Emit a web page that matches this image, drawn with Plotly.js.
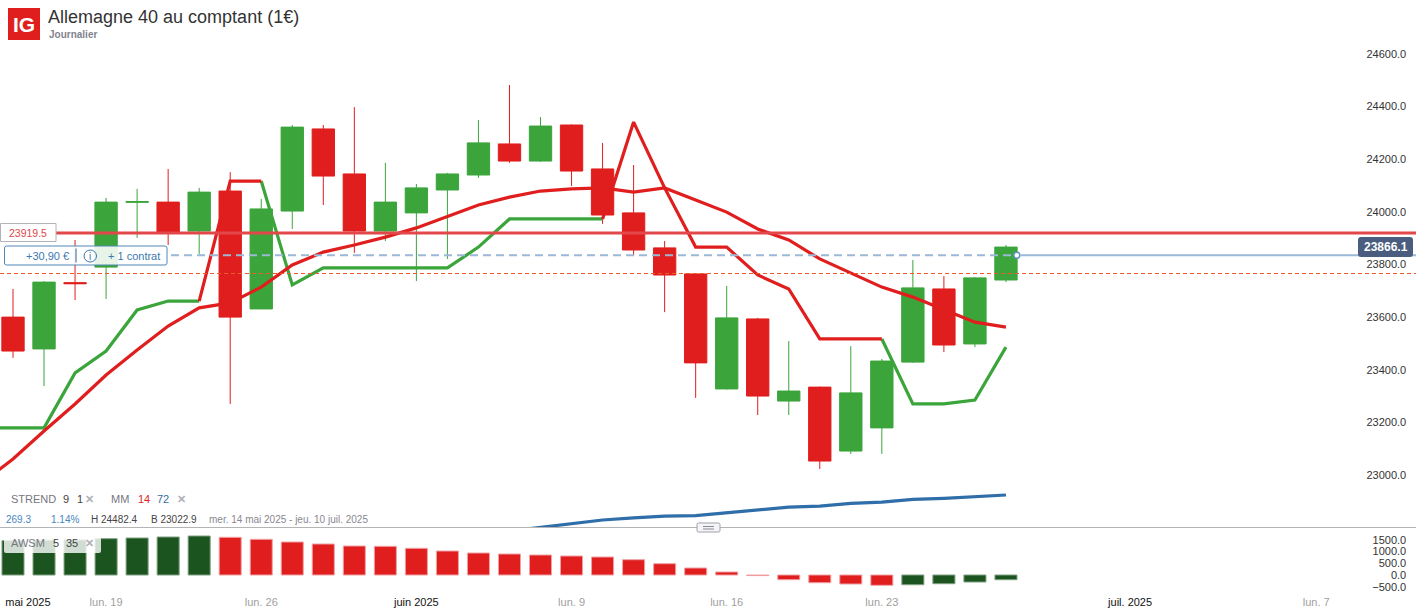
<!DOCTYPE html>
<html>
<head>
<meta charset="utf-8">
<script src="https://cdn.plot.ly/plotly-3.0.1.min.js"></script>
<style>
html, body { margin: 0; padding: 0; background: #fff; }
#chart { width: 1416px; height: 611px; }
</style>
</head>
<body>
<div id="chart"></div>
<script>
const W = 1416;
const H = 611;

// session index, 0 = mer. 14 mai 2025
const sessions = [0,1,2,3,4,5,6,7,8,9,10,11,12,13,14,15,16,17,18,19,20,21,22,23,24,25,26,27,28,29,30,31,32];
const open = [23600,23479,23731,23790,24036,24037,23927,24079,23631,24003,24315,24144,23927,23996,24083,24140,24258,24193,24330,24163,23996,23863,23764,23327,23593,23281,23334,23091,23179,23429,23707,23498,23741];
const high = [23707,23737,23893,24053,24087,24163,24091,24151,24049,24330,24330,24398,24186,24106,24148,24349,24482,24360,24332,24262,24178,23889,23766,23718,23597,23509,23336,23490,23441,23817,23756,23752,23874];
const low = [23445,23338,23665,23669,23901,23874,23840,23270,23631,23935,24026,23844,23889,23737,23821,24129,24186,24190,24098,23954,23832,23619,23293,23325,23228,23228,23023,23080,23080,23426,23467,23486,23733];
const close = [23471,23733,23727,24037,24039,23923,24075,23600,24011,24322,24136,23927,24037,24091,24144,24262,24193,24326,24155,23988,23855,23760,23426,23597,23300,23319,23053,23312,23433,23711,23494,23749,23866.1];

// indicators also carry the session before the first candle
const lineX = [-1,0,1,2,3,4,5,6,7,8,9,10,11,12,13,14,15,16,17,18,19,20,21,22,23,24,25,26,27,28,29,30,31,32];
const mm14 = [22970,23061,23167,23270,23380,23475,23566,23635,23654,23714,23798,23847,23874,23904,23939,23984,24026,24056,24079,24087,24091,24075,24091,24045,23999,23935,23893,23821,23768,23714,23676,23627,23581,23562];
const mm72 = [null,null,null,null,null,null,null,null,null,null,null,null,null,null,null,null,null,22787,22800,22814,22829,22837,22844,22846,22856,22867,22878,22882,22892,22897,22907,22911,22916,22924];
const strendUp = [23179,23179,23179,23388,23471,23627,23661,23661,null,24117,23722,23787,23787,23787,23787,23787,23866,23973,23973,23973,23973,null,null,null,null,null,null,null,null,23517,23270,23270,23285,23486];
const strendDown = [null,null,null,null,null,null,null,23661,24117,24117,null,null,null,null,null,null,null,null,null,null,23973,24341,24091,23866,23866,23760,23707,23517,23517,23517,null,null,null,null];

const awsm = [1460,1480,1490,1545,1574,1617,1659,1604,1519,1404,1319,1234,1221,1136,1021,936,894,851,808,766,651,481,298,128,-25,-200,-328,-383,-438,-413,-370,-298,-200];
const awsmRising = [1,1,1,1,1,1,1,0,0,0,0,0,0,0,0,0,0,0,0,0,0,0,0,0,0,0,0,0,0,1,1,1,1];

const priceTicks = [23000,23200,23400,23600,23800,24000,24200,24400,24600];
const awsmTicks = [-500,0,500,1000,1500];
const dateTicks = [0.48,3,8,13,18,23,28,36,42];
const dateLabels = ['mai 2025','lun. 19','lun. 26','juin 2025','lun. 9','lun. 16','lun. 23','juil. 2025','lun. 7'];
const dateIsMonth = [1,0,0,1,0,0,0,1,0];

const resistance = 23919.5;
const support = 23765.7;
const entry = 23835.2;
const entryX = 32.35;
const lastPrice = 23866.1;

const RED = '#e01e1e';
const GREEN = '#3ba53b';
const BLUE = '#2f6ea8';
const FONT = 'Liberation Sans, Arial, sans-serif';

const px = x => x / W;
const py = y => 1 - y / H;

function label(x, y, text, color, size, anchor) {
	return {
		xref: 'paper', yref: 'paper', x: px(x), y: py(y),
		text: text, showarrow: false, borderpad: 0,
		xanchor: anchor || 'left', yanchor: 'middle',
		font: { family: FONT, color: color, size: size || 11 },
	};
}

function roundBox(x0, y0, x1, y1, r, fill, stroke) {
	const X = px, Y = py;
	return {
		type: 'path', xref: 'paper', yref: 'paper', layer: 'above',
		path: `M${X(x0+r)},${Y(y0)} L${X(x1-r)},${Y(y0)} Q${X(x1)},${Y(y0)} ${X(x1)},${Y(y0+r)} ` +
			`L${X(x1)},${Y(y1-r)} Q${X(x1)},${Y(y1)} ${X(x1-r)},${Y(y1)} L${X(x0+r)},${Y(y1)} ` +
			`Q${X(x0)},${Y(y1)} ${X(x0)},${Y(y1-r)} L${X(x0)},${Y(y0+r)} Q${X(x0)},${Y(y0)} ${X(x0+r)},${Y(y0)} Z`,
		fillcolor: fill,
		line: { color: stroke, width: stroke === 'rgba(0,0,0,0)' ? 0 : 1 },
	};
}

function paperLine(x0, y0, x1, y1, color, width) {
	return {
		type: 'line', xref: 'paper', yref: 'paper', layer: 'above',
		x0: px(x0), y0: py(y0), x1: px(x1), y1: py(y1),
		line: { color: color, width: width },
	};
}

const traces = [
	{
		type: 'candlestick', x: sessions, open: open, high: high, low: low, close: close,
		xaxis: 'x', yaxis: 'y', hoverinfo: 'skip',
		increasing: { line: { color: GREEN, width: 1 }, fillcolor: GREEN },
		decreasing: { line: { color: RED, width: 1 }, fillcolor: RED },
	},
	{ type: 'scatter', mode: 'lines', x: lineX, y: mm72, line: { color: BLUE, width: 3.2 }, hoverinfo: 'skip' },
	{ type: 'scatter', mode: 'lines', x: lineX, y: strendUp, line: { color: GREEN, width: 3.2 }, hoverinfo: 'skip' },
	{ type: 'scatter', mode: 'lines', x: lineX, y: strendDown, line: { color: RED, width: 3.2 }, hoverinfo: 'skip' },
	{ type: 'scatter', mode: 'lines', x: lineX, y: mm14, line: { color: RED, width: 3.2 }, hoverinfo: 'skip' },
	{
		type: 'scatter', mode: 'markers', x: [entryX], y: [entry], hoverinfo: 'skip',
		marker: { size: 6, color: '#fff', line: { color: '#5b93c4', width: 1.5 } },
	},
	{
		type: 'bar', x: sessions, y: awsm, xaxis: 'x2', yaxis: 'y2', width: 0.71, hoverinfo: 'skip',
		marker: {
			color: awsmRising.map(r => r ? '#1c5420' : RED),
			line: { color: awsmRising.map(r => r ? '#7fa081' : '#f0a0a4'), width: 1 },
		},
	},
];

const shapes = [
	// price levels
	{ type: 'line', xref: 'paper', yref: 'y', x0: px(56), x1: 1, y0: resistance, y1: resistance, layer: 'above', line: { color: '#e2474a', width: 3 } },
	{ type: 'line', xref: 'paper', yref: 'y', x0: 0, x1: 1, y0: support, y1: support, layer: 'above', line: { color: '#ee5a2c', width: 1.2, dash: '4px,3px' } },
	{ type: 'line', xref: 'paper', yref: 'y', x0: px(171), x1: px(1012), y0: entry, y1: entry, layer: 'above', line: { color: '#9bb8d6', width: 2, dash: '8px,5px' } },
	{ type: 'line', xref: 'paper', yref: 'y', x0: px(1021), x1: 1, y0: entry, y1: entry, layer: 'above', line: { color: '#9bb8d6', width: 2 } },
	// pane divider and drag handle
	paperLine(0, 527.5, W, 527.5, '#b4b4b4', 1),
	roundBox(697, 523, 720, 532, 1.5, '#f4f5f8', '#a0a0a8'),
	paperLine(703, 526.5, 714, 526.5, '#8a8a92', 1),
	paperLine(703, 529, 714, 529, '#8a8a92', 1),
	// logo
	{ type: 'rect', xref: 'paper', yref: 'paper', x0: px(8), y0: py(8), x1: px(40), y1: py(40), fillcolor: '#e01e1e', line: { width: 0 } },
	// resistance tag
	{ type: 'rect', xref: 'paper', yref: 'paper', layer: 'above', x0: px(0.5), y0: py(223.5), x1: px(56), y1: py(241.5), fillcolor: '#fff', line: { color: '#b4b4b8', width: 1 } },
	// position box
	roundBox(4.5, 246, 167, 265, 2, 'rgba(255,255,255,0.88)', '#4f88b8'),
	paperLine(76, 248.5, 76, 262.5, '#8fb0cf', 2),
	{ type: 'circle', xref: 'paper', yref: 'paper', layer: 'above', x0: px(84), x1: px(96.5), y0: py(250), y1: py(262), fillcolor: 'rgba(0,0,0,0)', line: { color: '#3a78b0', width: 1 } },
	// last price tag
	roundBox(1358, 237, 1413, 257, 3, '#4a5d7f', 'rgba(0,0,0,0)'),
	// oscillator legend backing
	roundBox(4, 537, 101, 553, 2, 'rgba(255,255,255,0.8)', 'rgba(0,0,0,0)'),
];

const annotations = [
	label(24, 24.5, '<b>IG</b>', '#fff', 21, 'center'),
	label(48, 34, '<b>Journalier</b>', '#83838e', 10),
	label(28, 232.5, resistance.toFixed(1), '#e2474a', 10.5, 'center'),
	label(25, 256, '+30,90 €', '#3a78b0', 11),
	label(90.2, 256, 'i', '#3a78b0', 10, 'center'),
	label(107, 256, '+ 1 contrat', '#3a78b0', 11),
	label(1386, 247, '<b>' + lastPrice.toFixed(1) + '</b>', '#fff', 12, 'center'),
	label(10, 499, 'STREND', '#77777f', 11),
	label(62, 499, '9', '#444', 11),
	label(76, 499, '1', '#444', 11),
	label(84, 498.5, '<b>✕</b>', '#b0b0b6', 11),
	label(110, 499, 'MM', '#77777f', 11),
	label(137, 499, '14', '#e01e1e', 11),
	label(156, 499, '72', BLUE, 11),
	label(176, 498.5, '<b>✕</b>', '#b0b0b6', 11),
	label(5, 519, '269.3', '#4a86c0', 10),
	label(50, 519, '1.14%', '#4a86c0', 10),
	label(90, 519, 'H 24482.4', '#444', 10),
	label(150, 519, 'B 23022.9', '#444', 10),
	label(208, 519, 'mer. 14 mai 2025 - jeu. 10 juil. 2025', '#88888f', 10),
	label(10, 543, 'AWSM', '#77777f', 11),
	label(52, 543, '5', '#444', 11),
	label(65, 543, '35', '#444', 11),
	label(84, 542.5, '<b>✕</b>', '#b0b0b6', 11),
];

const xRange = [-13 / 31.03, (W - 13) / 31.03];
const axisFont = { family: FONT, size: 11, color: '#333' };

const layout = {
	width: W, height: H,
	margin: { l: 0, r: 0, t: 0, b: 0 },
	paper_bgcolor: '#fff', plot_bgcolor: 'rgba(0,0,0,0)',
	showlegend: false,
	boxgap: 0.28,
	boxgroupgap: 0,
	title: {
		text: 'Allemagne 40 au comptant (1€)',
		x: px(48), xanchor: 'left', xref: 'paper',
		y: py(17), yanchor: 'middle', yref: 'paper',
		font: { family: FONT, size: 18, color: '#333' },
	},
	xaxis: {
		domain: [0, 1], range: xRange, anchor: 'y',
		showticklabels: false, showgrid: false, zeroline: false, ticks: '', showline: false,
		rangeslider: { visible: false },
	},
	yaxis: {
		domain: [py(527), 1], range: [23000 + (475 - 527) * 3.8, 23000 + 475 * 3.8],
		side: 'right', anchor: 'x', ticklabelposition: 'inside',
		tickvals: priceTicks, tickformat: '.1f',
		ticks: 'inside', ticklen: 9, tickcolor: 'rgba(0,0,0,0)',
		showgrid: false, zeroline: false, showline: false, tickfont: axisFont,
	},
	xaxis2: {
		domain: [0, 1], range: xRange, anchor: 'y2', matches: 'x',
		tickvals: dateTicks,
		ticktext: dateLabels.map((t, i) => dateIsMonth[i]
			? `<span style="color:#111">${t}</span>`
			: `<span style="color:#a0a0a0">${t}</span>`),
		showgrid: false, zeroline: false, ticks: '', showline: false,
		tickangle: 0, tickfont: axisFont,
	},
	yaxis2: {
		domain: [py(594), py(528)], range: [-808, 2000],
		side: 'right', anchor: 'x2', ticklabelposition: 'inside',
		tickvals: awsmTicks, tickformat: '.1f',
		ticks: 'inside', ticklen: 9, tickcolor: 'rgba(0,0,0,0)',
		showgrid: false, zeroline: false, showline: false, tickfont: axisFont,
	},
	shapes: shapes,
	annotations: annotations,
};

Plotly.newPlot('chart', traces, layout, { displayModeBar: false, staticPlot: true });
</script>
</body>
</html>
